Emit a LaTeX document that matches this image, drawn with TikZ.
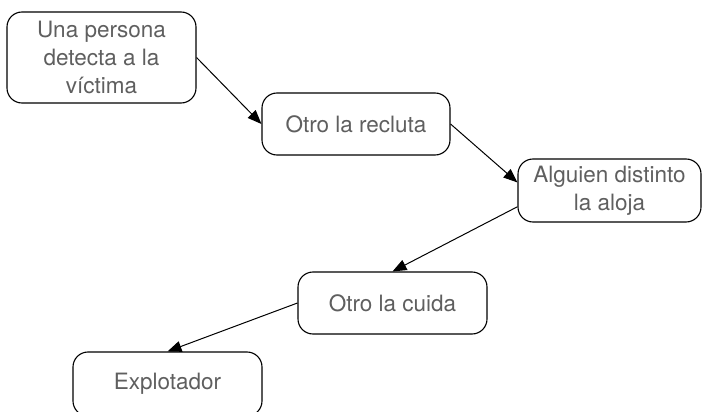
\documentclass[tikz,border=0pt]{standalone}
\usepackage{fontspec}
\setmainfont{TeX Gyre Heros}
\usetikzlibrary{arrows.meta}
\definecolor{txtgray}{RGB}{95,95,95}
\tikzset{
  boxnode/.style={draw=black, line width=1.1pt, rounded corners=15pt, fill=white,
    text=txtgray, align=center, inner sep=0pt,
    font=\fontsize{22.5}{28}\selectfont},
  conn/.style={draw=black, line width=1pt, -{Triangle[length=14pt,width=11pt]}, shorten >=0pt}
}
\begin{document}
\begin{tikzpicture}[x=1pt,y=-1pt]
\useasboundingbox (0,0) rectangle (702,412);
\node[boxnode, minimum width=189pt, minimum height=91pt] (b1) at (101.5,57.5) {Una persona\\detecta a la\\víctima};
\node[boxnode, minimum width=188pt, minimum height=62pt] (b2) at (356,124) {Otro la recluta};
\node[boxnode, minimum width=183pt, minimum height=63pt] (b3) at (609.5,190.5) {Alguien distinto\\la aloja};
\node[boxnode, minimum width=189pt, minimum height=62pt] (b4) at (392.5,303) {Otro la cuida};
\node[boxnode, minimum width=189pt, minimum height=64pt] (b5) at (167.5,384) {Explotador};
\draw[conn] (b1.east) -- (b2.west);
\draw[conn] (b2.east) -- (b3.175);
\draw[conn] (b3.190) -- (b4.north);
\draw[conn] (b4.west) -- (b5.north);
\end{tikzpicture}
\end{document}
